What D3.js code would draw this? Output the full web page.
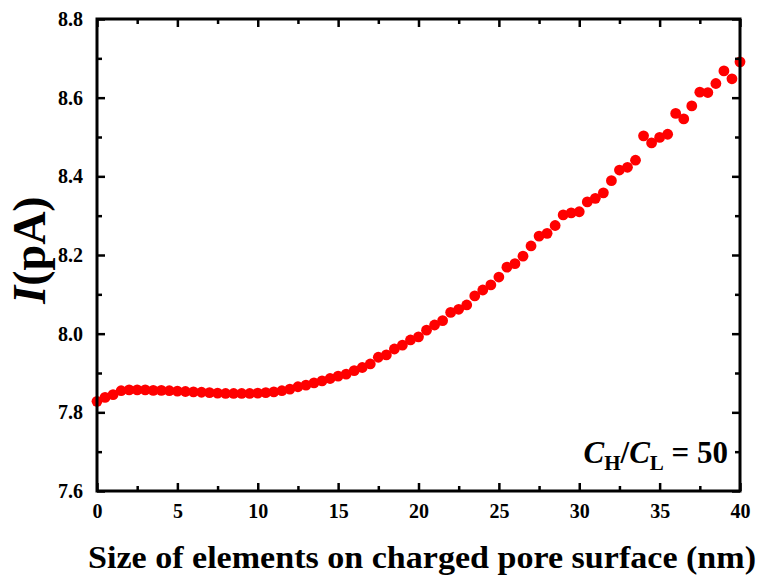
<!DOCTYPE html>
<html>
<head>
<meta charset="utf-8">
<script src="https://cdn.jsdelivr.net/npm/d3@7"></script>
<style>
  body { margin: 0; background: #fff; }
</style>
</head>
<body>
<div id="chart"></div>
<script>
const width = 759, height = 584;
const margin = { top: 19, right: 19, bottom: 93, left: 97 };
const serif = "'Liberation Serif', 'Times New Roman', Times, serif";

// data (size in nm, current in pA)
const sizes = [
  0, 0.5, 1, 1.5, 2, 2.5, 3, 3.5, 4, 4.5, 5, 5.5, 6, 6.5, 7, 7.5, 8, 8.5, 9, 9.5,
  10, 10.5, 11, 11.5, 12, 12.5, 13, 13.5, 14, 14.5, 15, 15.5, 16, 16.5, 17, 17.5,
  18, 18.5, 19, 19.5, 20, 20.5, 21, 21.5, 22, 22.5, 23, 23.5, 24, 24.5, 25, 25.5,
  26, 26.5, 27, 27.5, 28, 28.5, 29, 29.5, 30, 30.5, 31, 31.5, 32, 32.5, 33, 33.5,
  34, 34.5, 35, 35.5, 36, 36.5, 37, 37.5, 38, 38.5, 39, 39.5, 40
];
const current = [
  7.828, 7.838, 7.845, 7.855, 7.857, 7.857, 7.857, 7.856, 7.856, 7.855, 7.854, 7.853,
  7.852, 7.851, 7.850, 7.849, 7.848, 7.848, 7.848, 7.848, 7.849, 7.850, 7.852, 7.855,
  7.859, 7.865, 7.869, 7.875, 7.880, 7.886, 7.892, 7.897, 7.906, 7.914, 7.923, 7.940,
  7.946, 7.961, 7.971, 7.984, 7.992, 8.009, 8.022, 8.033, 8.054, 8.062, 8.073, 8.096,
  8.111, 8.124, 8.144, 8.169, 8.178, 8.197, 8.223, 8.248, 8.255, 8.275, 8.302, 8.307,
  8.310, 8.335, 8.344, 8.358, 8.389, 8.416, 8.423, 8.441, 8.503, 8.485, 8.499, 8.507,
  8.560, 8.546, 8.579, 8.614, 8.613, 8.636, 8.668, 8.648, 8.691
];
const xTicks = [0, 5, 10, 15, 20, 25, 30, 35, 40];
const yTicks = [7.6, 7.8, 8.0, 8.2, 8.4, 8.6, 8.8];
const xMinor = [2.5, 7.5, 12.5, 17.5, 22.5, 27.5, 32.5, 37.5];
const yMinor = [7.7, 7.9, 8.1, 8.3, 8.5, 8.7];

const points = sizes.map((s, i) => ({ s, v: current[i] }));

const svg = d3.select("#chart").append("svg")
  .attr("width", width)
  .attr("height", height)
  .style("font-family", serif)
  .style("font-weight", "bold");

const x = d3.scaleLinear().domain([0, 40]).range([margin.left, width - margin.right]);
const y = d3.scaleLinear().domain([7.6, 8.8]).range([height - margin.bottom, margin.top]);

// points first so the frame sits on top
svg.append("g").selectAll("circle")
  .data(points)
  .enter()
  .append("circle")
  .attr("cx", d => x(d.s))
  .attr("cy", d => y(d.v))
  .attr("r", 5.4)
  .attr("fill", "#ff0000");

function styleAxis(g) {
  g.attr("font-family", null).attr("font-size", null);
  g.select(".domain").remove();
  g.selectAll("line").attr("stroke", "#000").attr("stroke-width", 2.5);
  g.selectAll("text")
    .style("font-family", serif)
    .style("font-weight", "bold")
    .style("font-size", "20px")
    .attr("fill", "#000");
}

const plotW = width - margin.left - margin.right;
const plotH = height - margin.top - margin.bottom;

// bottom
svg.append("g").attr("transform", `translate(0,${y(7.6)})`)
  .call(d3.axisBottom(x).tickValues(xTicks).tickSize(-8).tickPadding(13).tickFormat(d3.format("d")))
  .call(styleAxis);
svg.append("g").attr("transform", `translate(0,${y(7.6)})`)
  .call(d3.axisBottom(x).tickValues(xMinor).tickSize(-5).tickFormat(""))
  .call(styleAxis);
// top
svg.append("g").attr("transform", `translate(0,${y(8.8)})`)
  .call(d3.axisTop(x).tickValues(xTicks).tickSize(-8).tickFormat(""))
  .call(styleAxis);
svg.append("g").attr("transform", `translate(0,${y(8.8)})`)
  .call(d3.axisTop(x).tickValues(xMinor).tickSize(-5).tickFormat(""))
  .call(styleAxis);
// left
svg.append("g").attr("transform", `translate(${x(0)},0)`)
  .call(d3.axisLeft(y).tickValues(yTicks).tickSize(-8).tickPadding(14).tickFormat(d3.format(".1f")))
  .call(styleAxis);
svg.append("g").attr("transform", `translate(${x(0)},0)`)
  .call(d3.axisLeft(y).tickValues(yMinor).tickSize(-5).tickFormat(""))
  .call(styleAxis);
// right
svg.append("g").attr("transform", `translate(${x(40)},0)`)
  .call(d3.axisRight(y).tickValues(yTicks).tickSize(-8).tickFormat(""))
  .call(styleAxis);
svg.append("g").attr("transform", `translate(${x(40)},0)`)
  .call(d3.axisRight(y).tickValues(yMinor).tickSize(-5).tickFormat(""))
  .call(styleAxis);

// frame
svg.append("rect")
  .attr("x", x(0)).attr("y", y(8.8))
  .attr("width", plotW).attr("height", plotH)
  .attr("fill", "none").attr("stroke", "#000").attr("stroke-width", 3);

// axis titles
svg.append("text")
  .attr("x", 88)
  .attr("y", 568)
  .attr("textLength", 668)
  .attr("lengthAdjust", "spacingAndGlyphs")
  .style("font-size", "32px")
  .text("Size of elements on charged pore surface (nm)");

const yl = svg.append("text")
  .attr("transform", `translate(45,250) rotate(-90)`)
  .attr("text-anchor", "middle")
  .style("font-size", "46px");
yl.append("tspan").style("font-style", "italic").text("I");
yl.append("tspan").text("(pA)");

// annotation
const ann = svg.append("text")
  .attr("x", 728).attr("y", 463)
  .attr("text-anchor", "end")
  .style("font-size", "31px");
ann.append("tspan").style("font-style", "italic").text("C");
ann.append("tspan").style("font-size", "21px").attr("dy", 7).text("H");
ann.append("tspan").attr("dy", -7).text("/");
ann.append("tspan").style("font-style", "italic").text("C");
ann.append("tspan").style("font-size", "21px").attr("dy", 7).text("L");
ann.append("tspan").attr("dy", -7).text(" = 50");
</script>
</body>
</html>
